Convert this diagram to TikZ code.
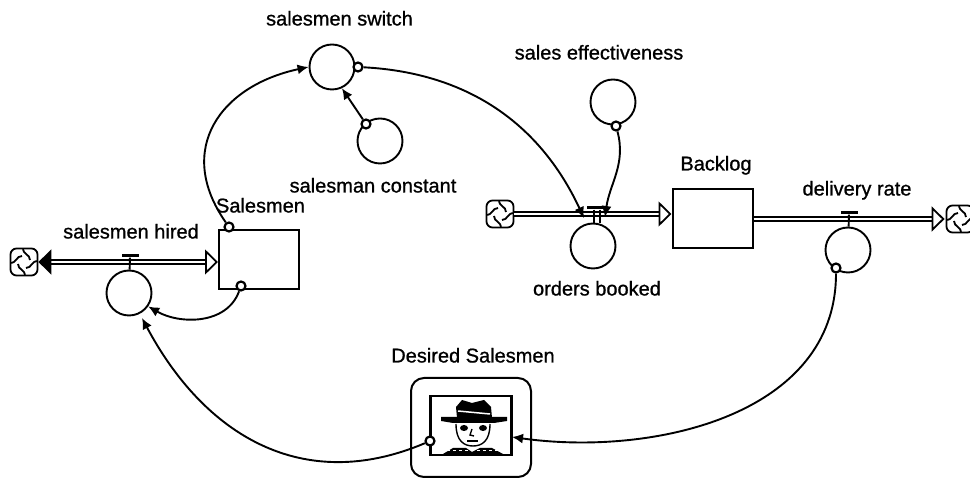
\documentclass[tikz,border=0pt]{standalone}
\usepackage{fontspec}
\newfontfamily\lblfont[FakeBold=0.9]{Liberation Sans}
\usetikzlibrary{arrows.meta, positioning}
\tikzset{
  stock/.style={draw, line width=2pt, minimum width=80pt, minimum height=59pt, inner sep=0pt},
  conv/.style={draw, circle, line width=1.9pt, minimum size=45pt, inner sep=0pt},
  port/.style={draw, circle, fill=white, line width=2.2pt, minimum size=9pt, inner sep=0pt},
  valve/.style={fill=black, minimum width=17pt, minimum height=3pt, inner sep=0pt},
  lbl/.style={font=\lblfont\fontsize{20}{22}\selectfont, inner sep=0pt, text height=15pt, text depth=4pt},
  link/.style={line width=1.9pt, -{Latex[length=11pt,width=10pt]}},
  pipe/.style={double, double distance=1.6pt, line width=2.2pt, -{Triangle[open,length=13pt,width=25pt,line width=1.8pt]}},
  swirl/.style={draw, line width=1.8pt, rounded corners=6pt, minimum size=27pt, inner sep=0pt,
    path picture={
      \draw[line width=1.8pt, shift={(path picture bounding box.center)}]
        (-1,14) .. controls (-1,7) and (6,8) .. (6,2)
        (14,1) .. controls (7,1) and (8,-6) .. (2,-6)
        (1,-14) .. controls (1,-7) and (-6,-8) .. (-6,-2)
        (-14,-1) .. controls (-7,-1) and (-8,6) .. (-2,6);
    }},
}
\begin{document}
\begin{tikzpicture}[x=1pt, y=1pt]
  \useasboundingbox (0,0) rectangle (970,479);
  \clip (0,0) rectangle (970,479);

  \node[stock] (salesmen) at (259,219) {};
  \node[stock] (backlog)  at (712.5,260.5) {};
  \node[swirl] (cloud hired) at (24,217) {};
  \node[swirl] (cloud orders) at (500,265) {};
  \node[swirl] (cloud delivery) at (960,260) {};

  \node[conv] (hired)  at (129,186) {};
  \node[conv] (switch) at (332,412) {};
  \node[conv] (constant) at (380,338) {};
  \node[conv] (effect) at (613,377) {};
  \node[conv] (orders) at (593,233) {};
  \node[conv] (delivery) at (848,229) {};

  \node[valve] (valve hired) at (130,223) {};
  \node[valve, minimum width=20pt] (valve orders) at (597,271) {};
  \node[valve] (valve delivery) at (849,266) {};

  \node[draw, line width=2pt, rounded corners=13pt, minimum width=120pt, minimum height=99pt, inner sep=0pt] (desired) at (471,51.5) {};
  \node[draw, line width=2.2pt, minimum width=81pt, minimum height=59pt, inner sep=0pt] (frame) at (471,53.5) {};

  % face in the frame
  \fill (457,61) -- (456,72) -- (462,79) -- (472,76) -- (484,79) -- (491,72) -- (492,61) -- cycle;
  \fill (441,62) -- (507,62) -- (507,58) -- (494,56) -- (453,56) -- (441,58) -- cycle;
  \draw[white, line width=1.5pt] (458,68) -- (490,65);
  \draw[line width=1.4pt] (456,55) .. controls (456,38) and (464,33) .. (473,33) .. controls (482,33) and (490,38) .. (490,55);
  \fill (464,51) ellipse (4pt and 3pt);
  \fill (483,51) ellipse (4pt and 3pt);
  \draw[line width=1.4pt] (472,50) -- (470,44) -- (474,43);
  \draw[line width=1.8pt] (467,38) -- (478,38);
  \fill (443,25) -- (453,31) -- (466,31) -- (472,27) -- (480,31) -- (492,31) -- (503,25) -- cycle;
  \draw[white, line width=1pt, dash pattern=on 3pt off 3pt] (447,28) -- (500,28);

  \node[port] (p sal top) at (229,252) {};
  \node[port] (p sal bot) at (241,193) {};
  \node[port] (p switch) at (358,412) {};
  \node[port] (p constant) at (366,355) {};
  \node[port] (p effect) at (616,353) {};
  \node[port] (p delivery) at (836,211) {};
  \node[port] (p desired) at (430,38) {};

  \coordinate (in frame) at (512,42);
  \coordinate (tip a) at (584,261);
  \coordinate (tip b) at (605,262);
  \coordinate (tip hired) at (142,161);

  \draw[pipe, {Triangle[length=13pt,width=25pt]}-{Triangle[open,length=13pt,width=25pt,line width=1.8pt]}] (cloud hired.east) -- (cloud hired.east -| salesmen.west);
  \draw[pipe] (cloud orders.east) -- (cloud orders.east -| backlog.west);
  \draw[pipe] (backlog.east |- cloud delivery.west) -- ([xshift=-1pt]cloud delivery.west);

  \draw[line width=1.9pt] (valve hired) -- (hired);
  \draw[line width=1.9pt] (valve delivery) -- (delivery);
  \draw[line width=1.9pt] ([xshift=-3pt]valve orders.south) -- ([xshift=-3pt]valve orders.south |- orders.north);
  \draw[line width=1.9pt] ([xshift=3pt]valve orders.south) -- ([xshift=3pt]valve orders.south |- orders.north);

  \draw[link] (p sal bot) to[out=-110, in=-30] (hired.-35);
  \draw[link] (p sal top) to[out=125, in=192, looseness=1.3] (switch.west);
  \draw[link] (p constant) -- (switch.-65);
  \draw[link] (p switch) to[out=-3, in=115] (tip a);
  \draw[link] (p effect) to[out=-75, in=82] (tip b);
  \draw[link] (p delivery) to[out=-90, in=-8] (in frame);
  \draw[link] (p desired) to[out=203, in=-62, looseness=1.1] (tip hired);

  \node[lbl] (l switch) at (339.5,459) {salesmen switch};
  \node[lbl] (l effect) at (599,425) {sales effectiveness};
  \node[lbl] (l constant) at (373,292) {salesman constant};
  \node[lbl] (l salesmen) at (260.5,272) {Salesmen};
  \node[lbl] (l hired) at (131,246) {salesmen hired};
  \node[lbl] (l backlog) at (716,314) {Backlog};
  \node[lbl] (l delivery) at (857,289) {delivery rate};
  \node[lbl] (l orders) at (597,189) {orders booked};
  \node[lbl] (l desired) at (473,122) {Desired Salesmen};
\end{tikzpicture}
\end{document}
